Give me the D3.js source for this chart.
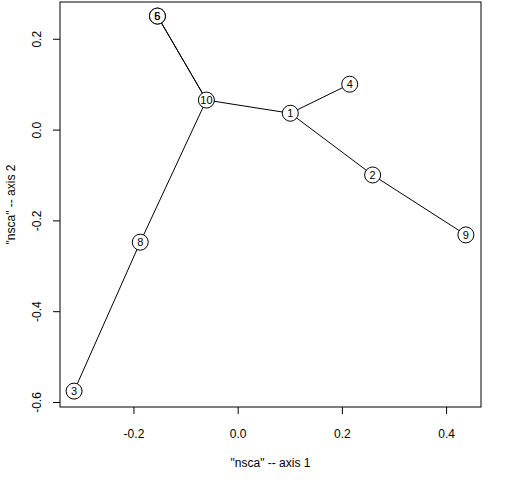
<!DOCTYPE html>
<html>
<head>
<meta charset="utf-8">
<script src="https://cdn.jsdelivr.net/npm/d3@7"></script>
<style>
  body { margin: 0; background: #fff; }
  svg text { font-family: "Liberation Sans", Arial, sans-serif; fill: #000; }
</style>
</head>
<body>
<svg id="chart" width="512" height="480"></svg>
<script>
// Node labels and their coordinates on the two axes
const nodeLabels = ["1", "2", "3", "4", "5", "6", "8", "9", "10"];
const axis1 = [0.101, 0.259, -0.314, 0.215, -0.154, -0.154, -0.187, 0.438, -0.060];
const axis2 = [0.036, -0.100, -0.576, 0.100, 0.250, 0.250, -0.248, -0.232, 0.065];

// Tree edges (pairs of node labels)
const edges = [["5", "10"], ["6", "10"], ["10", "1"], ["1", "4"], ["1", "2"], ["2", "9"], ["10", "8"], ["8", "3"]];

const xTicks = [-0.2, 0.0, 0.2, 0.4];
const yTicks = [-0.6, -0.4, -0.2, 0.0, 0.2];

const svg = d3.select('#chart');
const plotLeft = 60, plotRight = 481, plotTop = 2, plotBottom = 407;

const x = d3.scaleLinear().domain([-0.341, 0.467]).range([plotLeft, plotRight]);
const y = d3.scaleLinear().domain([-0.611, 0.281]).range([plotBottom, plotTop]);

// plain hyphen for negatives, like R
const fmt = d => d.toFixed(1);

const nodes = nodeLabels.map((name, i) => ({ name, x: axis1[i], y: axis2[i] }));
const byName = {};
nodes.forEach(n => { byName[n.name] = n; });

// Frame
svg.append('rect')
    .attr('x', plotLeft).attr('y', plotTop)
    .attr('width', plotRight - plotLeft).attr('height', plotBottom - plotTop)
    .attr('fill', 'none').attr('stroke', '#000').attr('stroke-width', 1);

// Bottom axis
const xAxis = svg.append('g')
    .attr('transform', `translate(0, ${plotBottom})`)
    .call(d3.axisBottom(x).tickValues(xTicks).tickSize(7).tickPadding(15).tickFormat(fmt));
xAxis.select('.domain').remove();
xAxis.selectAll('text').style('font-size', '12px');

// Left axis (labels rotated as in R)
const yAxis = svg.append('g')
    .attr('transform', `translate(${plotLeft}, 0)`)
    .call(d3.axisLeft(y).tickValues(yTicks).tickSize(7).tickFormat(fmt));
yAxis.select('.domain').remove();
yAxis.selectAll('text')
    .style('font-size', '12px')
    .attr('x', null).attr('dy', null)
    .attr('text-anchor', 'middle')
    .attr('transform', 'translate(-19, 0) rotate(-90)');

// Axis titles
svg.append('text')
    .attr('x', (plotLeft + plotRight) / 2).attr('y', 467)
    .attr('text-anchor', 'middle')
    .style('font-size', '12px')
    .text('"nsca" -- axis 1');

svg.append('text')
    .attr('transform', `translate(15, ${(plotTop + plotBottom) / 2}) rotate(-90)`)
    .attr('text-anchor', 'middle')
    .style('font-size', '12px')
    .text('"nsca" -- axis 2');

// Edges
svg.selectAll('.edge')
    .data(edges)
    .enter()
    .append('line')
    .attr('class', 'edge')
    .attr('x1', d => x(byName[d[0]].x))
    .attr('y1', d => y(byName[d[0]].y))
    .attr('x2', d => x(byName[d[1]].x))
    .attr('y2', d => y(byName[d[1]].y))
    .attr('stroke', '#000')
    .attr('stroke-width', 1);

// Circles first, labels on top so overlapping labels both show
svg.selectAll('.node')
    .data(nodes)
    .enter()
    .append('circle')
    .attr('class', 'node')
    .attr('cx', d => x(d.x))
    .attr('cy', d => y(d.y))
    .attr('r', 8)
    .attr('fill', '#fff')
    .attr('stroke', '#000')
    .attr('stroke-width', 1);

svg.selectAll('.label')
    .data(nodes)
    .enter()
    .append('text')
    .attr('class', 'label')
    .attr('x', d => x(d.x))
    .attr('y', d => y(d.y))
    .attr('text-anchor', 'middle')
    .attr('dy', '0.36em')
    .style('font-size', '11px')
    .text(d => d.name);
</script>
</body>
</html>
